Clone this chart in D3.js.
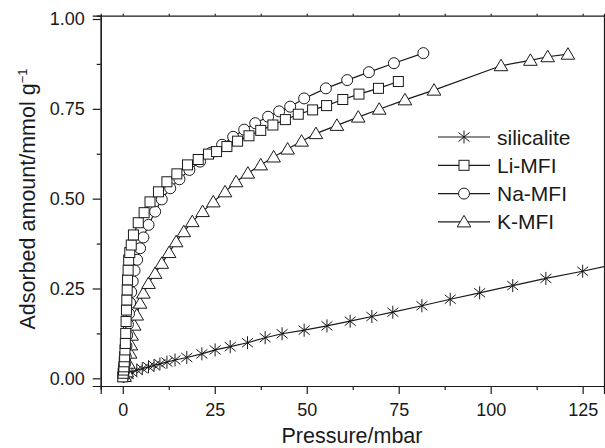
<!DOCTYPE html>
<html>
<head>
<meta charset="utf-8">
<title>Adsorption isotherms</title>
<script src="https://d3js.org/d3.v7.min.js"></script>
<style>
  body { margin: 0; background: #fff; }
  svg text { font-family: "Liberation Sans", Arial, Helvetica, sans-serif; fill: #1a1a1a; }
</style>
</head>
<body>
<svg id="chart"></svg>
<script>
// tick labels
const xTicks = [0, 25, 50, 75, 100, 125];
const yTicks = [0, 0.25, 0.5, 0.75, 1.0];

// silicalite
const siliP = [0.3, 0.8, 1.5, 2.5, 3.8, 5.3, 7.0, 8.5, 10.1, 12.0, 14.2, 17.4, 21.5, 25.1, 29.2, 33.9, 38.7, 43.3, 49.3, 55.5, 61.8, 67.7, 73.4, 81.3, 89.0, 97.0, 106.0, 115.0, 125.0, 134.0];
const siliQ = [0.005, 0.008, 0.011, 0.016, 0.023, 0.027, 0.032, 0.036, 0.040, 0.045, 0.051, 0.058, 0.068, 0.079, 0.088, 0.099, 0.113, 0.124, 0.134, 0.146, 0.159, 0.172, 0.184, 0.202, 0.220, 0.238, 0.258, 0.278, 0.298, 0.318];

// Li-MFI
const liP = [0.0, 0.1, 0.2, 0.3, 0.4, 0.5, 0.6, 0.7, 0.8, 0.9, 1.0, 1.1, 1.2, 1.3, 1.45, 1.6, 1.9, 2.3, 2.9, 4.2, 5.8, 7.4, 9.7, 12.0, 14.7, 17.6, 20.5, 23.3, 25.5, 28.3, 31.2, 34.3, 37.5, 40.8, 44.2, 47.7, 51.6, 55.4, 59.8, 64.2, 69.5, 74.9];
const liQ = [0.004, 0.014, 0.023, 0.032, 0.046, 0.060, 0.079, 0.097, 0.125, 0.158, 0.190, 0.218, 0.246, 0.274, 0.301, 0.329, 0.350, 0.371, 0.399, 0.433, 0.461, 0.491, 0.519, 0.547, 0.569, 0.594, 0.609, 0.624, 0.631, 0.645, 0.660, 0.675, 0.690, 0.705, 0.720, 0.735, 0.747, 0.759, 0.776, 0.791, 0.807, 0.826];

// Na-MFI
const naP = [0.2, 0.4, 0.6, 0.8, 1.0, 1.2, 1.4, 1.7, 2.0, 2.3, 2.7, 3.2, 3.9, 4.7, 5.6, 7.0, 8.8, 10.6, 12.9, 15.4, 18.1, 21.0, 24.0, 27.0, 30.0, 33.0, 36.0, 39.5, 42.5, 45.5, 49.3, 55.2, 61.0, 66.9, 73.7, 81.7];
const naQ = [0.005, 0.020, 0.040, 0.060, 0.090, 0.120, 0.150, 0.180, 0.210, 0.240, 0.270, 0.300, 0.330, 0.362, 0.392, 0.427, 0.464, 0.498, 0.529, 0.554, 0.580, 0.603, 0.628, 0.650, 0.672, 0.692, 0.710, 0.728, 0.743, 0.756, 0.779, 0.807, 0.830, 0.852, 0.877, 0.905];

// K-MFI
const kP = [0.5, 1.1, 1.5, 2.0, 2.2, 2.4, 3.1, 3.8, 4.7, 5.6, 7.0, 8.8, 10.6, 12.6, 14.5, 16.6, 18.9, 21.7, 24.6, 27.8, 30.8, 34.0, 37.5, 41.0, 44.8, 48.6, 52.5, 58.2, 64.0, 69.7, 76.7, 84.6, 102.8, 110.8, 115.5, 121.0];
const kQ = [0.005, 0.018, 0.042, 0.070, 0.093, 0.120, 0.148, 0.176, 0.209, 0.237, 0.264, 0.292, 0.320, 0.350, 0.380, 0.408, 0.436, 0.464, 0.491, 0.519, 0.547, 0.571, 0.594, 0.616, 0.638, 0.660, 0.681, 0.704, 0.727, 0.749, 0.775, 0.802, 0.870, 0.885, 0.895, 0.902];

const series = [
  { name: "silicalite", p: siliP, q: siliQ, sym: "star" },
  { name: "K-MFI", p: kP, q: kQ, sym: "tri" },
  { name: "Na-MFI", p: naP, q: naQ, sym: "circle" },
  { name: "Li-MFI", p: liP, q: liQ, sym: "square" }
];
const legendOrder = ["silicalite", "Li-MFI", "Na-MFI", "K-MFI"];

const width = 605, height = 448;
const ink = "#1a1a1a";

const svg = d3.select("#chart").attr("width", width).attr("height", height);

const x = d3.scaleLinear().domain([-6, 130.8]).range([100.7, 604]);
const y = d3.scaleLinear().domain([-0.0214, 1.0092]).range([386, 15.7]);

// markers
function marker(g, sym) {
  if (sym === "star") {
    g.append("path").attr("d", "M0,-6.5V6.5M-5.5,-4.5L5.5,4.5M-5.5,4.5L5.5,-4.5")
      .attr("stroke", ink).attr("stroke-width", 1).attr("fill", "none");
  } else if (sym === "square") {
    g.append("rect").attr("x", -5).attr("y", -5).attr("width", 10).attr("height", 10)
      .attr("fill", "#fff").attr("stroke", ink).attr("stroke-width", 1);
  } else if (sym === "circle") {
    g.append("circle").attr("r", 5.5)
      .attr("fill", "#fff").attr("stroke", ink).attr("stroke-width", 1);
  } else {
    g.append("path").attr("d", "M0,-6.5L6.8,5L-6.8,5Z")
      .attr("fill", "#fff").attr("stroke", ink).attr("stroke-width", 1);
  }
}

svg.append("clipPath").attr("id", "box").append("rect")
  .attr("x", 100.7).attr("y", 15.7).attr("width", 503.3).attr("height", 370.3);

const plot = svg.append("g").attr("clip-path", "url(#box)");
const line = d3.line().x(d => x(d[0])).y(d => y(d[1]));

series.forEach(s => {
  const pts = s.p.map((v, i) => [v, s.q[i]]);
  plot.append("path").datum(pts).attr("d", line)
    .attr("fill", "none").attr("stroke", ink).attr("stroke-width", 1.2);
  plot.selectAll(null).data(pts).enter().append("g")
    .attr("transform", d => `translate(${x(d[0])},${y(d[1])})`)
    .each(function () { marker(d3.select(this), s.sym); });
});

// axes
const xMinor = d3.range(12.5, 130, 25);
const yMinor = d3.range(0.125, 1, 0.25);

svg.append("g").attr("transform", "translate(0,386)")
  .call(d3.axisBottom(x).tickValues(xTicks).tickSize(8).tickPadding(9).tickFormat(d3.format("d")));
svg.append("g").attr("transform", "translate(0,386)")
  .call(d3.axisBottom(x).tickValues(xMinor).tickSize(4).tickFormat(""));

svg.append("g").attr("transform", "translate(100.7,0)")
  .call(d3.axisLeft(y).tickValues(yTicks).tickSize(8).tickPadding(8).tickFormat(d3.format(".2f")));
svg.append("g").attr("transform", "translate(100.7,0)")
  .call(d3.axisLeft(y).tickValues(yMinor).tickSize(4).tickFormat(""));

// mirror axes (top / right)
svg.append("g").attr("transform", "translate(0,15.7)")
  .call(d3.axisTop(x).tickValues(xTicks.concat(xMinor)).tickSize(2).tickFormat(""));
svg.append("g").attr("transform", "translate(604,0)")
  .call(d3.axisLeft(y).tickValues(yTicks.concat(yMinor)).tickSize(-3).tickFormat(""));

svg.selectAll(".domain, .tick line").attr("stroke", ink).attr("stroke-width", 1.2);
svg.selectAll(".tick text").attr("font-size", 18).style("fill", ink);

// axis titles
svg.append("text").attr("x", 352).attr("y", 443).attr("text-anchor", "middle")
  .attr("font-size", 21.5).text("Pressure/mbar");

const yt = svg.append("text").attr("transform", "translate(35,199) rotate(-90)")
  .attr("text-anchor", "middle").attr("font-size", 21.5);
yt.append("tspan").text("Adsorbed amount/mmol g");
yt.append("tspan").attr("dy", -8).attr("font-size", 13).text("\u22121");

// legend
const leg = svg.append("g");
legendOrder.forEach((name, i) => {
  const s = series.find(d => d.name === name);
  const gy = 137 + i * 28.3;
  leg.append("line").attr("x1", 438).attr("x2", 490).attr("y1", gy).attr("y2", gy)
    .attr("stroke", ink).attr("stroke-width", 1.2);
  const m = leg.append("g").attr("transform", `translate(464,${gy})`);
  marker(m, s.sym);
  leg.append("text").attr("x", 497).attr("y", gy + 7.5).attr("font-size", 21).text(name);
});
</script>
</body>
</html>
